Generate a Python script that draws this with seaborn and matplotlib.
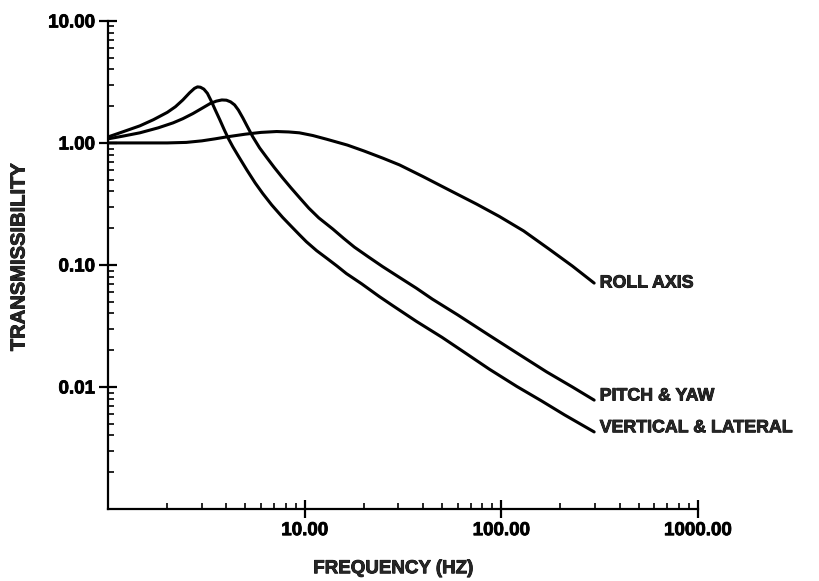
import numpy as np
import pandas as pd
import seaborn as sns
import matplotlib.pyplot as plt
import matplotlib.patheffects as pe
from matplotlib.ticker import FixedLocator, LogLocator, FuncFormatter, NullFormatter

# Values (frequency in Hz, transmissibility)
vert_freq = [1.0, 1.2, 1.45, 1.7, 2.0, 2.2, 2.4, 2.6, 2.75, 2.85, 2.95, 3.07, 3.2,
             3.35, 3.5, 3.7, 3.9, 4.1, 4.31, 4.6, 5.08, 5.6, 6.12, 6.8, 7.73, 8.6,
             9.43, 10.2, 11.5, 13.0, 14.6, 16.3, 19.5, 24.0, 28.0, 37.0, 50.0, 65.0,
             86.9, 120.0, 160.0, 210.0, 297.0]
vert_trans = [1.12, 1.24, 1.38, 1.55, 1.78, 1.98, 2.25, 2.58, 2.80, 2.88, 2.86, 2.76,
              2.55, 2.20, 1.88, 1.55, 1.28, 1.08, 0.93, 0.78, 0.60, 0.47, 0.385,
              0.31, 0.245, 0.205, 0.176, 0.155, 0.131, 0.113, 0.098, 0.085, 0.070,
              0.055, 0.0465, 0.0345, 0.0255, 0.0192, 0.0140, 0.0101, 0.0077, 0.0059,
              0.00428]

pitch_freq = [1.0, 1.2, 1.45, 1.8, 2.14, 2.4, 2.7, 3.0, 3.3, 3.55, 3.79, 4.0, 4.2,
              4.4, 4.6, 4.85, 5.1, 5.45, 5.9, 6.41, 7.0, 7.7, 8.5, 9.43, 10.5, 11.8,
              13.9, 15.8, 17.9, 21.0, 24.9, 30.0, 37.0, 44.6, 60.0, 86.9, 120.0,
              170.0, 230.0, 297.0]
pitch_trans = [1.08, 1.14, 1.21, 1.33, 1.46, 1.58, 1.74, 1.92, 2.10, 2.20, 2.25, 2.24,
               2.17, 2.05, 1.86, 1.60, 1.37, 1.12, 0.91, 0.76, 0.63, 0.52, 0.43,
               0.355, 0.292, 0.243, 0.197, 0.165, 0.140, 0.117, 0.097, 0.080, 0.0645,
               0.0525, 0.0390, 0.0265, 0.0190, 0.0133, 0.0100, 0.0078]

roll_freq = [1.0, 1.5, 2.0, 2.5, 3.0, 3.5, 4.0, 5.0, 6.0, 7.2, 8.3, 9.4, 11.0, 13.0,
             16.5, 20.0, 25.0, 30.4, 40.0, 54.5, 75.0, 97.7, 130.0, 175.0, 230.0,
             297.0]
roll_trans = [1.00, 1.00, 1.00, 1.01, 1.04, 1.08, 1.12, 1.18, 1.22, 1.24, 1.23, 1.21,
              1.15, 1.07, 0.96, 0.86, 0.75, 0.66, 0.53, 0.41, 0.315, 0.25, 0.19,
              0.135, 0.098, 0.071]

series_names = ["ROLL AXIS", "PITCH & YAW", "VERTICAL & LATERAL"]
x_ticks = [10, 100, 1000]
y_ticks = [0.01, 0.1, 1, 10]

df = pd.concat([
    pd.DataFrame({"freq": roll_freq, "trans": roll_trans, "axis": series_names[0]}),
    pd.DataFrame({"freq": pitch_freq, "trans": pitch_trans, "axis": series_names[1]}),
    pd.DataFrame({"freq": vert_freq, "trans": vert_trans, "axis": series_names[2]}),
])

sns.set_style("ticks")
plt.rcParams["font.family"] = ["Liberation Sans", "DejaVu Sans"]
plt.rcParams["font.weight"] = "bold"

fig = plt.figure(figsize=(8.19, 5.81), dpi=100)
ax = fig.add_axes([0.132, 0.124, 0.72, 0.84])

sns.lineplot(data=df, x="freq", y="trans", hue="axis", sort=False,
             palette=["black"] * 3, linewidth=2.2, legend=False, ax=ax)

ax.set_xscale("log")
ax.set_yscale("log")
ax.set_xlim(1, 1000)
ax.set_ylim(0.001, 10)

fmt = FuncFormatter(lambda v, p: "%.2f" % v)
ax.xaxis.set_major_locator(FixedLocator(x_ticks))
ax.yaxis.set_major_locator(FixedLocator(y_ticks))
ax.xaxis.set_minor_locator(LogLocator(base=10, subs=np.arange(2, 10)))
ax.yaxis.set_minor_locator(LogLocator(base=10, subs=np.arange(2, 10)))
ax.xaxis.set_major_formatter(fmt)
ax.yaxis.set_major_formatter(fmt)
ax.xaxis.set_minor_formatter(NullFormatter())
ax.yaxis.set_minor_formatter(NullFormatter())

ax.tick_params(which="major", direction="inout", length=13, width=1.6,
               labelsize=13.5, color="black", labelcolor="black", pad=3)
ax.tick_params(which="minor", direction="in", length=4.5, width=1.2, color="black")

sns.despine(ax=ax)
for s in ["left", "bottom"]:
    ax.spines[s].set_linewidth(1.6)
    ax.spines[s].set_color("black")

heavy = [pe.withStroke(linewidth=0.6, foreground="black")]
for lab in ax.get_xticklabels() + ax.get_yticklabels():
    lab.set_path_effects(heavy)

ax.set_xlabel("FREQUENCY (HZ)", fontsize=13.5, fontweight="bold", path_effects=heavy)
ax.set_ylabel("TRANSMISSIBILITY", fontsize=14.5, fontweight="bold", path_effects=heavy)
ax.xaxis.set_label_coords(0.483, -0.105)
ax.yaxis.set_label_coords(-0.135, 0.516)

# curve labels at the end of each line
ends = [(roll_freq[-1], roll_trans[-1], 0), (pitch_freq[-1], pitch_trans[-1], 3),
        (vert_freq[-1], vert_trans[-1], 3)]
for name, (fx, fy, dy) in zip(series_names, ends):
    ax.annotate(name, xy=(fx, fy), xytext=(4, dy), textcoords="offset points",
                va="center", ha="left", fontsize=12.8, fontweight="bold",
                path_effects=heavy)

fig.savefig("out.png", dpi=100)
